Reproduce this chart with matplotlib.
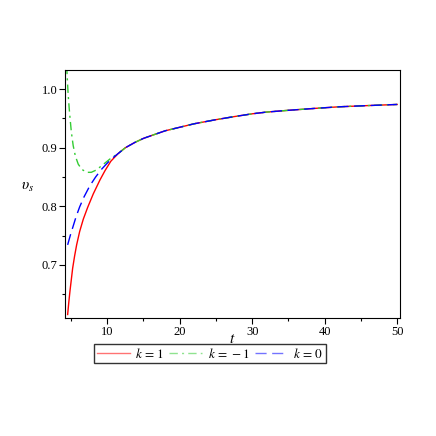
import matplotlib
matplotlib.use("Agg")
import matplotlib.pyplot as plt
from matplotlib.ticker import MultipleLocator, FormatStrFormatter

plt.rcParams['font.family'] = ['Liberation Serif', 'DejaVu Serif']
plt.rcParams['mathtext.fontset'] = 'stix'

# common tail shared by all curves
t_tail = [11.5, 12.5, 13.8, 15, 16.6, 18, 20, 22, 25, 27.4, 30, 32, 35, 38.9,
          42, 45.8, 50]
v_tail = [0.890, 0.900, 0.909, 0.916, 0.923, 0.929, 0.935, 0.941, 0.948,
          0.953, 0.958, 0.961, 0.964, 0.9675, 0.970, 0.972, 0.974]

t_k1 = [4.54, 4.7, 4.86, 5.05, 5.23, 5.5, 5.78, 6.2, 6.7, 7.3, 8.07, 9.0, 9.7, 10.5]
v_k1 = [0.615, 0.636, 0.655, 0.675, 0.694, 0.715, 0.734, 0.757, 0.778, 0.798,
        0.821, 0.845, 0.861, 0.877]

t_km1 = [4.4, 4.6, 4.75, 4.86, 5.05, 5.3, 5.6, 6.0, 6.5, 7.16, 7.8, 8.5, 9.2, 9.8, 10.5]
v_km1 = [1.04, 0.993, 0.968, 0.952, 0.927, 0.904, 0.886, 0.872, 0.863, 0.858,
         0.858, 0.862, 0.869, 0.875, 0.882]

t_k0 = [4.54, 4.9, 5.3, 5.7, 6.2, 6.8, 7.6, 8.4, 9.2, 9.8, 10.5]
v_k0 = [0.734, 0.750, 0.766, 0.782, 0.799, 0.816, 0.835, 0.850, 0.863, 0.871, 0.880]

labels = [r'$k\,=\,1$', r'$k\,=\,-1$', r'$k\,=\,0$']

fig = plt.figure(figsize=(4.36, 4.36), dpi=100)
ax = fig.add_axes([0.149, 0.2706, 0.768, 0.569])

l1, = ax.plot(t_k1 + t_tail, v_k1 + v_tail, color='#ff0000', lw=1.0, ls='-')
l2, = ax.plot(t_km1 + t_tail, v_km1 + v_tail, color='#33cc33', lw=1.0,
              ls=(0, (6, 3, 1.5, 3)))
l3, = ax.plot(t_k0 + t_tail, v_k0 + v_tail, color='#0000ff', lw=1.0,
              ls=(0, (8, 4)))

ax.set_xlim(4.17, 50.37)
ax.set_ylim(0.609, 1.033)
ax.xaxis.set_major_locator(MultipleLocator(10))
ax.xaxis.set_minor_locator(MultipleLocator(5))
ax.yaxis.set_major_locator(MultipleLocator(0.1))
ax.yaxis.set_minor_locator(MultipleLocator(0.05))
ax.yaxis.set_major_formatter(FormatStrFormatter('%.1f'))
ax.tick_params(which='both', direction='out', labelsize=9, width=0.8)
ax.tick_params(which='major', length=4)
ax.tick_params(which='minor', length=2.5)
ax.tick_params(axis='x', pad=2)
ax.tick_params(axis='y', pad=1.5)

ax.set_xlabel(r'$t$', fontsize=11, labelpad=-3.5)
ax.set_ylabel(r'$\upsilon_s$', fontsize=11, rotation=0, labelpad=10)

leg = fig.legend([l1, l2, l3], labels, loc='center', bbox_to_anchor=(0.482, 0.189),
                 ncol=3, fontsize=9.5, frameon=True, fancybox=False,
                 edgecolor='black', handlelength=2.5, columnspacing=0.4,
                 handletextpad=0.4, borderpad=0.2, borderaxespad=0)
leg.get_frame().set_linewidth(1.0)
for h in leg.get_lines():
    h.set_alpha(0.55)

fig.savefig('out.png', dpi=100)
